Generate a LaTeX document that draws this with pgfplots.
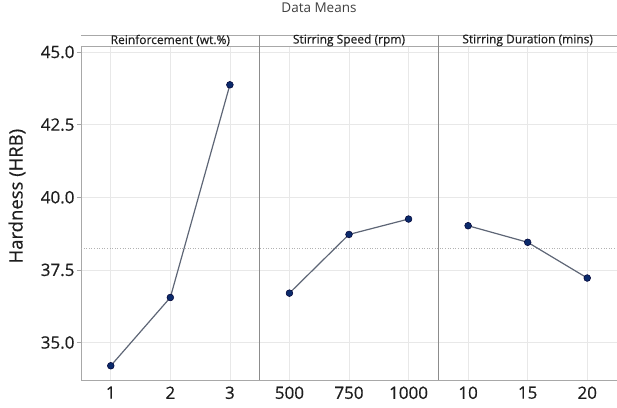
\documentclass[border=0pt]{standalone}
\usepackage{pgfplots}
\pgfplotsset{compat=1.18}
\usepackage{fontspec}
\setmainfont{Open Sans}
\newfontfamily\semib[FakeBold=0.5]{Open Sans}
\definecolor{ptfill}{HTML}{0B2A6B}
\definecolor{lncol}{HTML}{5E6676}
\definecolor{frm}{HTML}{A8A8A8}
\definecolor{sep}{HTML}{8C8C8C}
\definecolor{grd}{HTML}{E8E8E8}
\definecolor{txt}{HTML}{1E1E1E}
\begin{document}
\begin{tikzpicture}[x=1pt,y=1pt]
\begin{axis}[
  at={(0,0)}, anchor=south west,
  scale only axis, width=536pt, height=345pt,
  xmin=0.5, xmax=9.5, ymin=33.71, ymax=45.585,
  xtick={1,...,9},
  xticklabels={1,2,3,500,750,1000,10,15,20},
  ytick={35,37.5,40,42.5,45},
  yticklabel style={/pgf/number format/fixed, /pgf/number format/fixed zerofill, /pgf/number format/precision=1, xshift=1pt},
  /pgf/number format/assume math mode=true,
  ticklabel style={font=\semib\fontsize{17}{19}\selectfont, text=txt},
  xtick style={draw=none},
  ytick style={draw=frm, line width=0.6pt},
  tick align=outside, major tick length=4pt,
  xticklabel style={yshift=1pt},
  grid=major, grid style={draw=grd, line width=0.6pt},
  axis line style={draw=frm, line width=0.7pt},
  ylabel={Hardness (HRB)},
  every axis y label/.style={at={(rel axis cs:0,0.533)}, xshift=-64pt, rotate=90, anchor=center, font=\semib\fontsize{18.5}{20}\selectfont, text=txt},
  title={Data Means},
  title style={at={(rel axis cs:0.444,1)}, anchor=center, yshift=21pt, font=\fontsize{13.5}{15}\selectfont, text=black!75},
  clip=false,
]
% header strip
\fill[white] (axis cs:0.5,45.21) rectangle (axis cs:9.5,45.585);
\draw[frm, line width=0.7pt] (axis cs:0.5,45.21) -- (axis cs:9.5,45.21);
\draw[frm, line width=0.7pt] (axis cs:0.5,45.585) -- (axis cs:9.5,45.585);
\node[font=\semib\fontsize{12}{13}\selectfont, text=txt] at (axis cs:2,45.4) {Reinforcement (wt.\%)};
\node[font=\semib\fontsize{12}{13}\selectfont, text=txt] at (axis cs:5,45.4) {Stirring Speed (rpm)};
\node[font=\semib\fontsize{12}{13}\selectfont, text=txt] at (axis cs:8,45.4) {Stirring Duration (mins)};
% separators
\draw[sep, line width=0.8pt] (axis cs:3.5,33.71) -- (axis cs:3.5,45.585);
\draw[sep, line width=0.8pt] (axis cs:6.5,33.71) -- (axis cs:6.5,45.585);
% mean reference line
\addplot[draw=black!30, dotted, line width=0.6pt, forget plot] coordinates {(0.5,38.23) (9.5,38.23)};
% data
\addplot[lncol, line width=1.2pt, mark=*, mark size=3.4pt, mark options={fill=ptfill, draw=black!80!blue, line width=0.5pt}] coordinates {(1,34.2) (2,36.55) (3,43.87)};
\addplot[lncol, line width=1.2pt, mark=*, mark size=3.4pt, mark options={fill=ptfill, draw=black!80!blue, line width=0.5pt}] coordinates {(4,36.7) (5,38.72) (6,39.25)};
\addplot[lncol, line width=1.2pt, mark=*, mark size=3.4pt, mark options={fill=ptfill, draw=black!80!blue, line width=0.5pt}] coordinates {(7,39.02) (8,38.45) (9,37.22)};
\end{axis}
\pgfresetboundingbox
\useasboundingbox (-81pt,-27pt) rectangle (536pt,380pt);
\end{tikzpicture}
\end{document}
